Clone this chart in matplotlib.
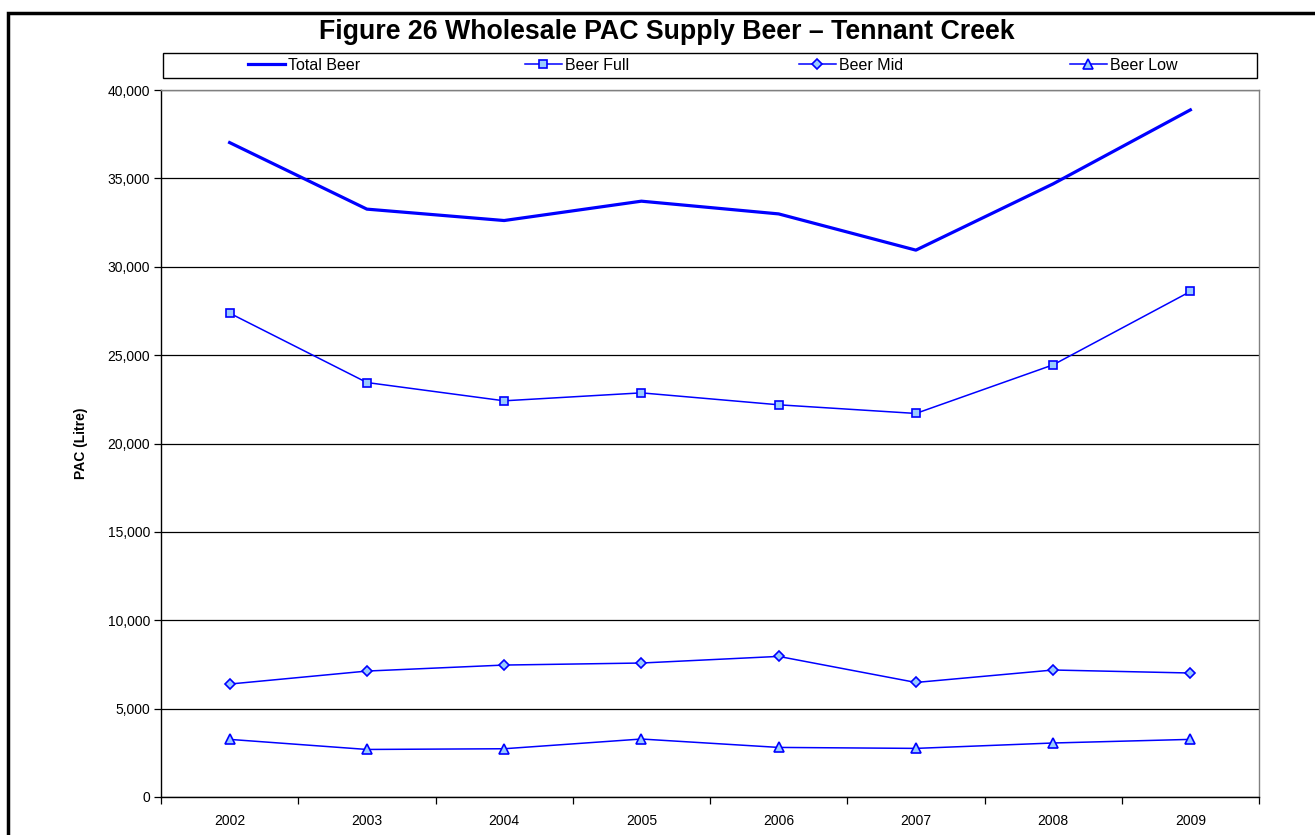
import matplotlib.pyplot as plt
from matplotlib.patches import Rectangle
from matplotlib.legend import Legend
from matplotlib.ticker import FuncFormatter, FixedLocator

years = ['2002', '2003', '2004', '2005', '2006', '2007', '2008', '2009']
total_beer = [37025, 33260, 32615, 33710, 32990, 30940, 34690, 38875]
beer_full = [27375, 23450, 22415, 22865, 22190, 21700, 24450, 28600]
beer_mid = [6390, 7125, 7465, 7580, 7955, 6480, 7185, 7015]
beer_low = [3260, 2690, 2730, 3280, 2805, 2750, 3055, 3260]

plt.rcParams['font.family'] = ['Liberation Sans', 'DejaVu Sans']

fig = plt.figure(figsize=(13.15, 8.35), dpi=100)
ax = fig.add_axes([161/1315, 1 - 797/835, 1098/1315, 707/835])

blue = '#0000FF'
fill = '#99CCFF'
x = list(range(len(years)))

h_total, = ax.plot(x, total_beer, color=blue, lw=2.3, label='Total Beer', zorder=5)
h_full, = ax.plot(x, beer_full, color=blue, lw=1.1, marker='s', ms=6, mfc=fill, mec=blue,
                  mew=1.2, label='Beer Full', zorder=5)
h_mid, = ax.plot(x, beer_mid, color=blue, lw=1.1, marker='D', ms=5.5, mfc=fill, mec=blue,
                 mew=1.2, label='Beer Mid', zorder=5)
h_low, = ax.plot(x, beer_low, color=blue, lw=1.1, marker='^', ms=7, mfc=fill, mec=blue,
                 mew=1.2, label='Beer Low', zorder=5)

ax.set_xlim(-0.5, len(years) - 0.5)
ax.set_ylim(0, 40000)
ax.set_yticks(range(0, 40001, 5000))
ax.yaxis.set_major_formatter(FuncFormatter(lambda v, p: '{:,.0f}'.format(v)))
ax.grid(axis='y', color='black', lw=0.9)
ax.set_axisbelow(True)

ax.set_xticks(x)
ax.set_xticklabels(years)
ax.xaxis.set_minor_locator(FixedLocator([i - 0.5 for i in range(len(years) + 1)]))
ax.tick_params(axis='x', which='major', length=0, pad=12, labelsize=10)
ax.tick_params(axis='x', which='minor', length=5, width=0.9, direction='out')
ax.tick_params(axis='y', length=5, width=0.9, labelsize=10, pad=3)

for s in ('top', 'right'):
    ax.spines[s].set_color('#808080')
    ax.spines[s].set_linewidth(1.0)
for s in ('left', 'bottom'):
    ax.spines[s].set_color('black')
    ax.spines[s].set_linewidth(1.0)

ax.set_ylabel('PAC (Litre)', fontsize=10, fontweight='bold')
ax.yaxis.set_label_coords(-0.0665, 0.5)

# legend frame across the plot width, one slot per entry
ax.add_patch(Rectangle((0.002, 1.017), 0.996, 0.035, transform=ax.transAxes,
                       fill=False, ec='black', lw=1.0, clip_on=False))
slots = [248, 525, 799, 1070]
for h, px in zip([h_total, h_full, h_mid, h_low], slots):
    leg = Legend(ax, [h], [h.get_label()], loc='center left',
                 bbox_to_anchor=((px - 161) / 1098, 1.0347),
                 frameon=False, fontsize=11.5, handlelength=2.3, handletextpad=0.2,
                 borderpad=0, borderaxespad=0)
    ax.add_artist(leg)

fig.text(667/1315, 1 - 32/835, 'Figure 26 Wholesale PAC Supply Beer \u2013 Tennant Creek',
         ha='center', va='center', fontsize=19.3, fontweight='bold')

# outer chart border
fig.patches.append(Rectangle((8/1315, -0.1), 2, 1.1 - 13/835, transform=fig.transFigure,
                             fill=False, ec='black', lw=2.5))

fig.savefig('out.png', dpi=100)
